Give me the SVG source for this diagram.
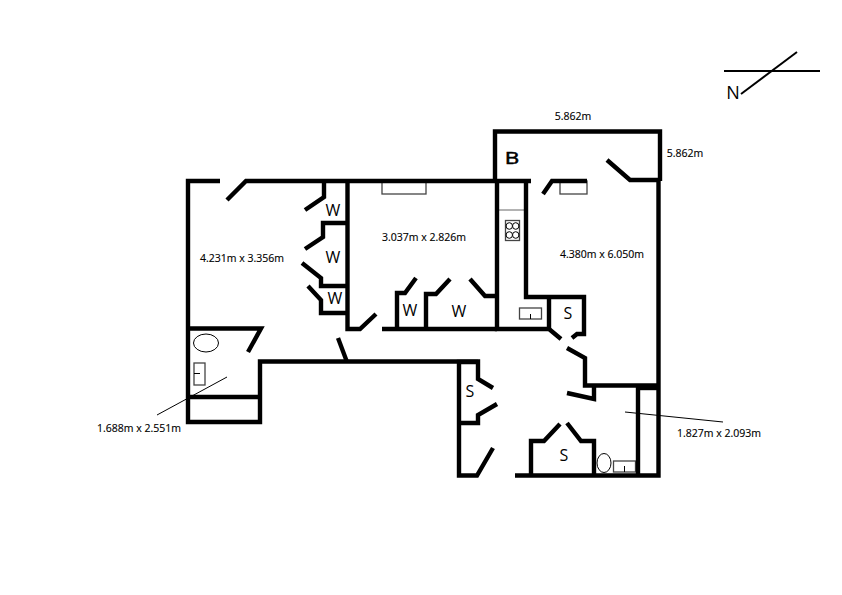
<svg xmlns="http://www.w3.org/2000/svg" width="842" height="595" viewBox="0 0 842 595">
<style>
.w{fill:none;stroke:#000;stroke-width:4.400;stroke-linejoin:miter}
.g{fill:#fff;stroke:#444;stroke-width:1.300}
.k{fill:none;stroke:#000;stroke-width:1}
.o{fill:#fff;stroke:#000;stroke-width:1}
text{font-family:"Open Sans","Noto Sans",sans-serif;fill:#000}
.d{font-size:10.500px;text-anchor:middle;stroke:#000;stroke-width:.15}
.l{font-size:16px;text-anchor:middle}
</style>
<rect width="842" height="595" fill="#fff"/>
<g id="fixtures">
<rect class="g" x="382" y="181" width="44" height="13"/>
<rect class="g" x="560" y="181" width="27" height="13"/>
<line x1="497" y1="210" x2="525" y2="210" stroke="#666" stroke-width="1"/>
<rect class="g" x="505.500" y="220.500" width="14" height="20"/>
<ellipse class="o" cx="509.300" cy="226" rx="3.200" ry="3.300"/>
<ellipse class="o" cx="515.700" cy="226" rx="3.200" ry="3.300"/>
<ellipse class="o" cx="509.300" cy="235" rx="3.200" ry="3.300"/>
<ellipse class="o" cx="515.700" cy="235" rx="3.200" ry="3.300"/>
<rect class="g" x="519.500" y="308" width="22" height="11"/>
<path class="k" d="M530.500 314V319"/>
<ellipse class="o" cx="206" cy="343" rx="12.500" ry="9"/>
<rect class="g" x="194" y="363" width="11" height="22"/>
<path class="k" d="M194 373.500H200"/>
<ellipse class="o" cx="604" cy="463" rx="7" ry="9.500"/>
<rect class="g" x="613.500" y="461" width="22" height="11"/>
<path class="k" d="M624.500 466V472"/>
</g>
<g id="walls">
<path class="w" d="M220 181H188V422H260V361.500H478V379L493 388"/>
<path class="w" d="M227 200L246 181H497"/>
<path class="w" d="M188 328.500H261L248 352"/>
<path class="w" d="M188 397H260"/>
<path class="w" d="M338 338L347 362"/>
<path class="w" d="M324 181V197L305 210"/>
<path class="w" d="M347 223H323V237L305 249"/>
<path class="w" d="M302 263L321 278V286H346"/>
<path class="w" d="M308 286L321 300V313H347"/>
<path class="w" d="M347.500 181V329H360L376 314"/>
<path class="w" d="M382 329H497"/>
<path class="w" d="M397 329V293H405L416 278"/>
<path class="w" d="M426 329V294H436L450 279"/>
<path class="w" d="M470 279L485 296H496"/>
<path class="w" d="M495 181V131.500H660V181"/>
<path class="w" d="M607 160L630 180H660"/>
<path class="w" d="M658.500 180V475.500H515"/>
<path class="w" d="M497 181V329H549L561 339"/>
<path class="w" d="M495 181H531"/>
<path class="w" d="M526 181V297H584V334H577L572 338"/>
<path class="w" d="M549 297V329"/>
<path class="w" d="M543 194L552 181H587"/>
<path class="w" d="M567 348L585 358V385.500H658"/>
<path class="w" d="M638 388H658" stroke-width="6"/>
<path class="w" d="M567 393L594 399V387"/>
<path class="w" d="M638 387V475"/>
<path class="w" d="M531 475V441H544L560 424"/>
<path class="w" d="M567 423L581 441H594V475"/>
<path class="w" d="M478 362H459V475.500H477L493 448"/>
<path class="w" d="M497 404L478 415V423H459"/>
</g>
<g id="leaders">
<line class="k" x1="227" y1="377" x2="157" y2="415"/>
<line class="k" x1="625" y1="412" x2="723" y2="422"/>
</g>
<g id="compass">
<line x1="724" y1="71" x2="820" y2="71" stroke="#000" stroke-width="2"/>
<line x1="741" y1="94" x2="797" y2="52" stroke="#000" stroke-width="2"/>
<text class="l" x="733" y="99" style="font-size:18px">N</text>
</g>
<g id="labels">
<text class="d" x="573" y="120">5.862m</text>
<text class="d" x="685" y="157">5.862m</text>
<text class="d" x="242" y="262">4.231m x 3.356m</text>
<text class="d" x="424" y="241">3.037m x 2.826m</text>
<text class="d" x="602" y="258">4.380m x 6.050m</text>
<text class="d" x="139" y="432">1.688m x 2.551m</text>
<text class="d" x="719" y="437">1.827m x 2.093m</text>
<text class="l" x="333" y="216">W</text>
<text class="l" x="333" y="263">W</text>
<text class="l" x="335" y="304">W</text>
<text class="l" x="410" y="316">W</text>
<text class="l" x="459" y="317">W</text>
<text class="l" x="568" y="319">S</text>
<text class="l" x="470" y="397">S</text>
<text class="l" x="564" y="461">S</text>
<text class="l" x="512" y="164" stroke="#000" stroke-width=".5" transform="translate(512 0) scale(1.400 1) translate(-512 0)">B</text>
</g>
</svg>
